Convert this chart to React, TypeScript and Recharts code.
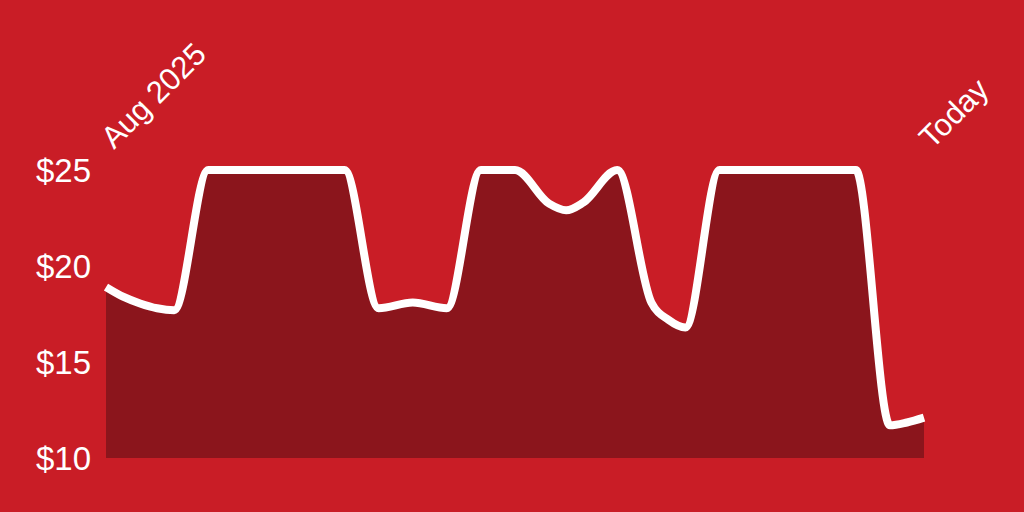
import React from "react";
import { AreaChart, Area, XAxis, YAxis } from "recharts";

const BG = "#C91D26";
const FILL = "#8B151C";

// day index (0 = Aug 2025, 48 = today) and price on that day
const days = [
  0, 1, 2, 3, 4, 6, 14, 16, 18, 20, 22, 24, 26, 27, 28, 30, 32, 33, 34, 36,
  44, 46, 47, 48,
];
const prices = [
  18.9, 18.4, 18.05, 17.8, 17.7, 25, 25, 17.8, 18.1, 17.8, 25, 25, 23.25,
  22.9, 23.3, 25, 18.1, 17.2, 16.8, 25, 25, 11.7, 11.85, 12.1,
];
const dateTicks = [0, 48];
const dateLabels = ["Aug 2025", "Today"];
const yTicks = [10, 15, 20, 25];

const data = days.map((day, i) => ({ day, price: prices[i] }));

const FONT = "'Liberation Sans', Arial, sans-serif";

function DateTick(props: any) {
  const { x, y, payload } = props;
  const idx = dateTicks.indexOf(payload?.value);
  if (idx < 0) return null;
  const tx = x + 8;
  const ty = y - 18;
  return (
    <text
      x={tx}
      y={ty}
      transform={`rotate(-45, ${tx}, ${ty})`}
      textAnchor="start"
      fill="#ffffff"
      fontSize={31}
      fontFamily={FONT}
    >
      {dateLabels[idx]}
    </text>
  );
}

export default function App() {
  return (
    <div
      style={{
        position: "absolute",
        left: 0,
        top: 0,
        width: 1024,
        height: 512,
        background: BG,
      }}
    >
      <AreaChart
        width={1024}
        height={512}
        data={data}
        margin={{ top: 0, right: 100, bottom: 54, left: 0 }}
      >
        <XAxis
          dataKey="day"
          type="number"
          domain={[0, 48]}
          ticks={dateTicks}
          orientation="top"
          height={170}
          axisLine={false}
          tickLine={false}
          tickSize={0}
          tick={<DateTick />}
        />
        <YAxis
          domain={[10, 25]}
          ticks={yTicks}
          width={106}
          axisLine={false}
          tickLine={false}
          tickSize={0}
          tickMargin={15}
          tickFormatter={(v: number) => `$${v}`}
          tick={{ fill: "#ffffff", fontSize: 33, fontFamily: FONT }}
        />
        <Area
          type="monotone"
          dataKey="price"
          stroke="#ffffff"
          strokeWidth={8}
          fill={FILL}
          fillOpacity={1}
          isAnimationActive={false}
          dot={false}
          activeDot={false}
        />
      </AreaChart>
    </div>
  );
}
